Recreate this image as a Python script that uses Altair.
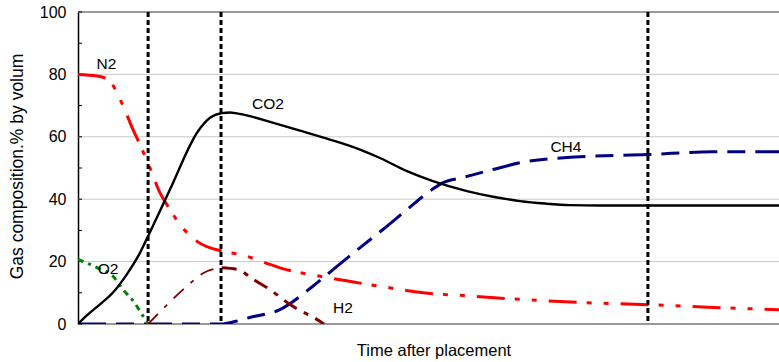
import altair as alt
import pandas as pd

# ---- data (time in 0-100 units across the plot, value in % by volume) ----
co2_t = [0, 1.14, 3.14, 4.99, 6.99, 8.84, 10.13, 13.12, 17.12, 18.83, 20.54, 21.68, 22.68, 24.54, 27.39,
         31.67, 35.95, 40.23, 43.08, 46.93, 50.64, 55.49, 59.2, 63.05, 66.62, 70.19, 74.47, 100]
co2_v = [0, 2.5, 6.3, 10.1, 16.0, 22.8, 28.8, 43.1, 61.8, 66.1, 67.6, 67.8, 67.5, 66.6, 64.8,
         62.0, 59.1, 55.9, 53.2, 49.0, 45.8, 42.6, 40.8, 39.4, 38.6, 38.1, 38.0, 38.0]

n2_t = [0, 2.7, 4.28, 6.23, 7.85, 8.84, 10.27, 11.7, 13.12, 14.55, 16.98, 20.69, 23.11, 27.39, 28.82,
        34.52, 43.08, 49.26, 54.99, 63.05, 71.61, 81.31, 90.58, 100]
n2_v = [80, 79.5, 78.4, 70.9, 62.3, 57.5, 50.0, 42.0, 36.7, 31.9, 26.5, 23.3, 22.3, 19.1, 18.0,
        15.3, 12.1, 10.0, 9.1, 7.9, 6.9, 6.2, 5.3, 4.6]

o2_t = [0, 2.7, 5.0, 6.4, 7.9, 9.3, 10]
o2_v = [20.7, 18.1, 15.3, 11.1, 7.3, 2.5, 0]

h2_rise_t = [10.0, 12.41, 14.98, 18.4, 20.5]
h2_rise_v = [0, 5.5, 11.0, 16.9, 18.0]
h2_fall_t = [20.5, 22.7, 25.0, 27.4, 30.2, 34.5, 35.1]
h2_fall_v = [18.0, 17.5, 14.3, 11.0, 6.3, 0.9, 0]

ch4_t = [0, 20.4, 22.4, 24.5, 28.8, 33.5, 36.9, 40.2, 43.5, 46.9, 50.5, 52.1, 54.8, 59.2, 63.1,
         71.6, 81.2, 90.6, 100]
ch4_v = [0, 0, 0.8, 2.1, 4.6, 12.1, 18.4, 24.4, 30.3, 36.6, 43.1, 45.3, 46.9, 49.5, 51.7,
         53.6, 54.3, 55.2, 55.2]

phase_t = [10, 20.4, 81.3]

label_text = ["N2", "O2", "CO2", "CH4", "H2"]
label_t = [4.07, 4.28, 27.1, 69.6, 37.8]
label_v = [83.3, 17.5, 70.5, 56.6, 5.0]

grid_v = [20, 40, 60, 80]
frame_v = [0, 100]
tick_v = [0, 10, 20, 30, 40, 50, 60, 70, 80, 90, 100]
y_labels = [0, 20, 40, 60, 80, 100]

FONT = "Liberation Sans"

x_enc = alt.X(
    "t:Q",
    scale=alt.Scale(domain=[0, 100], nice=False, zero=False),
    axis=alt.Axis(
        domain=False, ticks=False, labels=False, grid=False,
        title="Time after placement", titleFont=FONT, titleFontSize=16.5,
        titleFontWeight="normal", titleColor="black",
        titleX=355.5, titleY=31.5, titleBaseline="alphabetic",
    ),
)
y_enc = alt.Y(
    "v:Q",
    scale=alt.Scale(domain=[0, 100], nice=False),
    axis=alt.Axis(
        values=y_labels, grid=False, ticks=False,
        domainColor="black", domainWidth=1.5,
        labelFont=FONT, labelFontSize=16, labelColor="black", labelPadding=12,
        title="Gas composition.% by volum", titleFont=FONT, titleFontSize=17.5,
        titleFontWeight="normal", titleColor="black",
        titleX=-56, titleY=154, titleBaseline="alphabetic",
    ),
)


def df(t, v):
    return pd.DataFrame({"t": t, "v": v})


grid = alt.Chart(pd.DataFrame({"v": grid_v})).mark_rule(color="#c8c8c8", strokeWidth=1).encode(y=y_enc)
frame = alt.Chart(pd.DataFrame({"v": frame_v})).mark_rule(color="#999999", strokeWidth=2).encode(y=y_enc)
ticks = alt.Chart(pd.DataFrame({"v": tick_v})).mark_rule(color="black", strokeWidth=1).encode(
    y=y_enc, x=alt.value(0), x2=alt.value(4)
)
phases = alt.Chart(pd.DataFrame({"t": phase_t})).mark_rule(
    color="black", strokeWidth=3, strokeDash=[5, 3]
).encode(x=x_enc)


def line(t, v, color, width, dash=None):
    kw = dict(color=color, strokeWidth=width, interpolate="monotone", clip=True)
    if dash:
        kw["strokeDash"] = dash
    return alt.Chart(df(t, v)).mark_line(**kw).encode(x=x_enc, y=y_enc)


co2 = line(co2_t, co2_v, "black", 2.4)
n2 = line(n2_t, n2_v, "#ff0000", 3, [28, 10, 5, 12, 5, 12])
o2 = line(o2_t, o2_v, "#008000", 3, [6, 5, 3, 5])
h2a = line(h2_rise_t, h2_rise_v, "#800000", 1.8, [14, 9, 4, 9])
h2b = line(h2_fall_t, h2_fall_v, "#800000", 3, [15, 8, 5, 8])
ch4 = line(ch4_t, ch4_v, "#000080", 3, [28, 10, 18, 10])

labels = alt.Chart(pd.DataFrame({"t": label_t, "v": label_v, "txt": label_text})).mark_text(
    font=FONT, fontSize=15.5, color="black", align="center", baseline="middle"
).encode(x=x_enc, y=y_enc, text="txt:N")

chart = alt.layer(
    grid, frame, ticks, ch4, n2, o2, h2a, h2b, co2, phases, labels
).properties(
    width=701, height=312,
    autosize=alt.AutoSizeParams(type="none"),
    padding={"left": 78, "top": 12, "right": 0, "bottom": 38},
    background="white",
).configure_view(strokeWidth=0)

chart.save("out.html", embed_options={"renderer": "svg", "actions": False})
